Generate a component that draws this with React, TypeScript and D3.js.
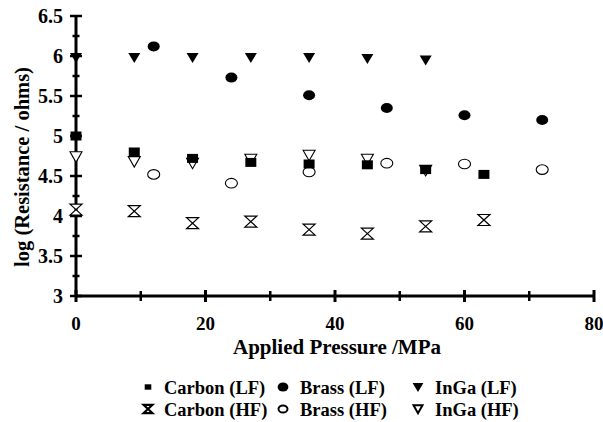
import React from "react";
import * as d3 from "d3";

const carbonLFx = [0, 9, 18, 27, 36, 45, 54, 63];
const carbonLFy = [5.0, 4.8, 4.72, 4.67, 4.65, 4.64, 4.58, 4.52];
const brassLFx = [12, 24, 36, 48, 60, 72];
const brassLFy = [6.12, 5.73, 5.51, 5.35, 5.26, 5.2];
const ingaLFx = [0, 9, 18, 27, 36, 45, 54];
const ingaLFy = [5.98, 5.98, 5.98, 5.98, 5.98, 5.97, 5.95];
const carbonHFx = [0, 9, 18, 27, 36, 45, 54, 63];
const carbonHFy = [4.08, 4.06, 3.91, 3.93, 3.83, 3.78, 3.87, 3.95];
const brassHFx = [12, 24, 36, 48, 60, 72];
const brassHFy = [4.52, 4.41, 4.55, 4.66, 4.65, 4.58];
const ingaHFx = [0, 9, 18, 27, 36, 45, 54];
const ingaHFy = [4.74, 4.68, 4.66, 4.71, 4.76, 4.71, 4.57];

const xTicks = [0, 20, 40, 60, 80];
const xMinor = [10, 30, 50, 70];
const yTicks = [3, 3.5, 4, 4.5, 5, 5.5, 6, 6.5];
const yMinor = [3.25, 3.75, 4.25, 4.75, 5.25, 5.75, 6.25];

const legendRow1 = ["Carbon (LF)", "Brass (LF)", "InGa (LF)"];
const legendRow2 = ["Carbon (HF)", "Brass (HF)", "InGa (HF)"];

const FONT = "'Liberation Serif', 'Times New Roman', serif";

type Kind = "square" | "circle" | "tri" | "hour" | "ocircle" | "otri";

function Marker({ kind, x, y, s = 1, sw = 1.1 }: { kind: Kind; x: number; y: number; s?: number; sw?: number }) {
  switch (kind) {
    case "square":
      return <rect x={x - 5.5 * s} y={y - 4.5 * s} width={11 * s} height={9 * s} fill="#000" />;
    case "circle":
      return <ellipse cx={x} cy={y} rx={6 * s} ry={5 * s} fill="#000" />;
    case "tri":
      return <path d={`M${x - 6 * s},${y - 4.5 * s}L${x + 6 * s},${y - 4.5 * s}L${x},${y + 5.5 * s}Z`} fill="#000" />;
    case "ocircle":
      return <ellipse cx={x} cy={y} rx={6 * s} ry={4.8 * s} fill="#fff" stroke="#000" strokeWidth={sw} />;
    case "otri":
      return <path d={`M${x - 6 * s},${y - 5 * s}L${x + 6 * s},${y - 5 * s}L${x},${y + 5.5 * s}Z`} fill="#fff" stroke="#000" strokeWidth={sw} />;
    case "hour":
      return (
        <path
          d={`M${x - 6 * s},${y - 5.5 * s}L${x + 6 * s},${y - 5.5 * s}L${x - 6 * s},${y + 5.5 * s}L${x + 6 * s},${y + 5.5 * s}Z`}
          fill="#fff"
          stroke="#000"
          strokeWidth={sw + 0.1}
        />
      );
  }
  return null;
}

export default function App() {
  const W = 603, H = 422;
  const x = d3.scaleLinear().domain([0, 80]).range([76, 594]);
  const y = d3.scaleLinear().domain([3, 6.5]).range([296, 16]);

  const series: { kind: Kind; xs: number[]; ys: number[] }[] = [
    { kind: "otri", xs: ingaHFx, ys: ingaHFy },
    { kind: "ocircle", xs: brassHFx, ys: brassHFy },
    { kind: "hour", xs: carbonHFx, ys: carbonHFy },
    { kind: "tri", xs: ingaLFx, ys: ingaLFy },
    { kind: "circle", xs: brassLFx, ys: brassLFy },
    { kind: "square", xs: carbonLFx, ys: carbonLFy },
  ];

  const legendX = [148, 283, 418];
  const legendTextX = [164, 300, 435];
  const rowY = [387, 409];
  const row1Kinds: Kind[] = ["square", "circle", "tri"];
  const row2Kinds: Kind[] = ["hour", "ocircle", "otri"];

  return (
    <svg width={W} height={H} style={{ position: "absolute", left: 0, top: 0, background: "#fff" }} fontFamily={FONT}>
      <rect width={W} height={H} fill="#fff" />
      {/* axes */}
      <line x1={x(0)} x2={x(80)} y1={y(3)} y2={y(3)} stroke="#000" strokeWidth={3} />
      <line x1={x(0)} x2={x(0)} y1={y(3)} y2={y(6.5)} stroke="#000" strokeWidth={3} />
      {xTicks.map((t) => (
        <g key={"xt" + t}>
          <line x1={x(t)} x2={x(t)} y1={y(3) - 6} y2={y(3) + 6} stroke="#000" strokeWidth={3} />
          <text x={x(t)} y={y(3) + 34} textAnchor="middle" fontSize={19} fontWeight="bold">
            {t}
          </text>
        </g>
      ))}
      {xMinor.map((t) => (
        <line key={"xm" + t} x1={x(t)} x2={x(t)} y1={y(3) - 5} y2={y(3) + 5} stroke="#000" strokeWidth={2.5} />
      ))}
      {yTicks.map((t) => (
        <g key={"yt" + t}>
          <line x1={x(0) - 6} x2={x(0) + 6} y1={y(t)} y2={y(t)} stroke="#000" strokeWidth={2.5} />
          <text x={63} y={y(t) + 7} textAnchor="end" fontSize={20} fontWeight="bold">
            {t}
          </text>
        </g>
      ))}
      {yMinor.map((t) => (
        <line key={"ym" + t} x1={x(0) - 3.5} x2={x(0) + 3.5} y1={y(t)} y2={y(t)} stroke="#000" strokeWidth={2.5} />
      ))}
      {/* titles */}
      <text x={337} y={354} textAnchor="middle" fontSize={21} fontWeight="bold">
        Applied Pressure /MPa
      </text>
      <text
        transform={`translate(29,${(y(3) + y(6.5)) / 2 + 11}) rotate(-90)`}
        textAnchor="middle"
        fontSize={20.5}
        fontWeight="bold"
      >
        log (Resistance / ohms)
      </text>
      {/* points */}
      {series.map((s, si) => (
        <g key={"s" + si}>
          {s.xs.map((xv, i) => (
            <Marker key={i} kind={s.kind} x={x(xv)} y={y(s.ys[i])} />
          ))}
        </g>
      ))}
      {/* legend */}
      {legendRow1.map((label, i) => (
        <g key={"l1" + i}>
          <Marker kind={row1Kinds[i]} x={legendX[i]} y={rowY[0]} s={i === 0 ? 0.6 : 0.9} />
          <text x={legendTextX[i]} y={rowY[0] + 6.5} fontSize={18.5} fontWeight="bold">
            {label}
          </text>
        </g>
      ))}
      {legendRow2.map((label, i) => (
        <g key={"l2" + i}>
          <Marker kind={row2Kinds[i]} x={legendX[i]} y={rowY[1]} s={0.75} sw={2} />
          <text x={legendTextX[i]} y={rowY[1] + 6.5} fontSize={18.5} fontWeight="bold">
            {label}
          </text>
        </g>
      ))}
    </svg>
  );
}
